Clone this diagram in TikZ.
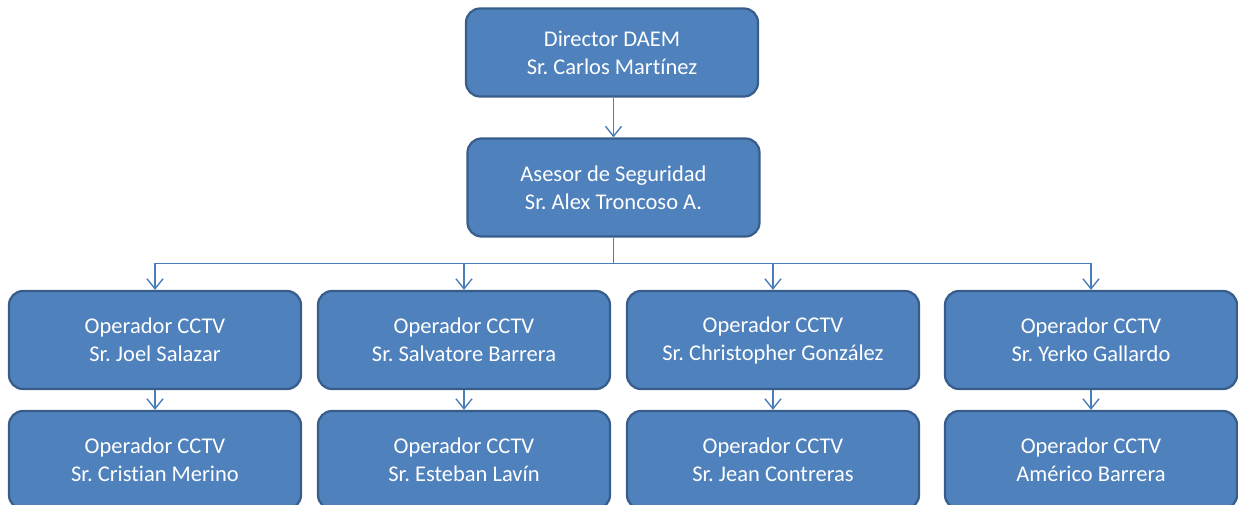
\documentclass[tikz,border=0pt]{standalone}
\usepackage{fontspec}
\setmainfont{Carlito}[Ligatures=CommonOff]
\usetikzlibrary{arrows.meta}
\definecolor{boxfill}{HTML}{4F81BD}
\definecolor{boxline}{HTML}{385D8A}
\definecolor{conn}{HTML}{4A7EBB}
\frenchspacing
\begin{document}
\begin{tikzpicture}[x=1pt,y=-1pt,
  orgbox/.style={draw=boxline, fill=boxfill, line width=2.2pt, rounded corners=14pt,
    text=white, align=center, inner sep=0pt, minimum width=292pt, minimum height=98pt,
    font=\frenchspacing\fontsize{22.5}{28}\selectfont},
  link/.style={draw=conn, line width=1.4pt, -{Straight Barb[length=10pt,width=16pt,line width=1.4pt]}}]
\useasboundingbox (0,0) rectangle (1238,505);
\node[orgbox, minimum height=88pt] (dir) at (612,52.5) {Director DAEM\\Sr. Carlos Martínez};
\node[orgbox] (ase) at (613.5,187.5) {Asesor de Seguridad\\Sr. Alex Troncoso A.};
\node[orgbox] (o1) at (155,340) {Operador CCTV\\Sr. Joel Salazar};
\node[orgbox] (o2) at (464,340) {Operador CCTV\\Sr. Salvatore Barrera};
\node[orgbox] (o3) at (773,340) {Operador CCTV\\Sr. Christopher González};
\node[orgbox] (o4) at (1091,340) {Operador CCTV\\Sr. Yerko Gallardo};
\node[orgbox] (p1) at (155,460) {Operador CCTV\\Sr. Cristian Merino};
\node[orgbox] (p2) at (464,460) {Operador CCTV\\Sr. Esteban Lavín};
\node[orgbox] (p3) at (773,460) {Operador CCTV\\Sr. Jean Contreras};
\node[orgbox] (p4) at (1091,460) {Operador CCTV\\Américo Barrera};
\draw[link] (dir.south -| ase.north) -- (ase.north);
\foreach \n in {o1,o2,o3,o4} {
  \draw[link] (ase.south) -- ++(0,26) -| (\n.north);
}
\foreach \a/\b in {o1/p1,o2/p2,o3/p3,o4/p4} {
  \draw[link] (\a.south) -- (\b.north);
}
\end{tikzpicture}
\end{document}
